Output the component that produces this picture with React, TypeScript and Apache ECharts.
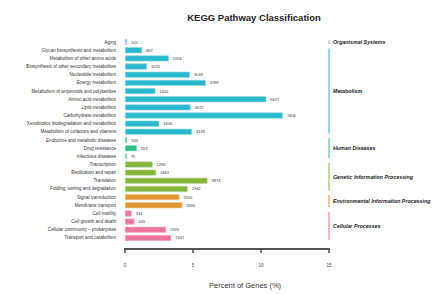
import React, { useEffect, useRef } from "react";
import * as echarts from "echarts";

const categories = [
  "Aging",
  "Glycan biosynthesis and metabolism",
  "Metabolism of other amino acids",
  "Biosynthesis of other secondary metabolites",
  "Nucleotide metabolism",
  "Energy metabolism",
  "Metabolism of terpenoids and polyketides",
  "Amino acid metabolism",
  "Lipid metabolism",
  "Carbohydrate metabolism",
  "Xenobiotics biodegradation and metabolism",
  "Metabolism of cofactors and vitamins",
  "Endocrine and metabolic diseases",
  "Drug resistance",
  "Infectious diseases",
  "Transcription",
  "Replication and repair",
  "Translation",
  "Folding, sorting and degradation",
  "Signal transduction",
  "Membrane transport",
  "Cell motility",
  "Cell growth and death",
  "Cellular community \u2013 prokaryotes",
  "Transport and catabolism",
];

const geneCounts = [
  101, 807, 2056, 1026, 3049, 3789, 1420, 6627, 3072, 7406, 1606, 3148,
  103, 553, 79, 1296, 1463, 3874, 2942, 2550, 2695, 314, 445, 1929, 2167,
];

const percentOfGenes = [
  0.16, 1.26, 3.22, 1.61, 4.78, 5.94, 2.23, 10.39, 4.82, 11.61, 2.52, 4.93,
  0.16, 0.87, 0.12, 2.03, 2.29, 6.07, 4.61, 4.0, 4.22, 0.49, 0.7, 3.02, 3.4,
];

const groupNames = [
  "Organismal Systems",
  "Metabolism",
  "Human Diseases",
  "Genetic Information Processing",
  "Environmental Information Processing",
  "Cellular Processes",
];
const groupSizes = [1, 11, 3, 4, 2, 4];
const groupColors = ["#8ea6e8", "#29b9cd", "#2dbf86", "#86b53b", "#e0962f", "#f0739c"];
const groupLightColors = ["#c3cff3", "#8fd8e3", "#93dcbf", "#c0d99c", "#efc593", "#f5b3c8"];

const xTicks = [0, 5, 10, 15];

const FONT = "Liberation Sans, Arial, Helvetica, sans-serif";

export default function App() {
  const ref = useRef<HTMLDivElement>(null);
  useEffect(() => {
    if (!ref.current) return;
    const chart = echarts.init(ref.current, null, { renderer: "svg" });

    const catGroup: number[] = [];
    const groupRanges: number[][] = [];
    let idx = 0;
    groupSizes.forEach((n, g) => {
      groupRanges.push([15, idx, idx + n - 1, g]);
      for (let k = 0; k < n; k++) catGroup.push(g);
      idx += n;
    });

    const barData = percentOfGenes.map((v, i) => ({
      value: v,
      label: { formatter: String(geneCounts[i]) },
      itemStyle: {
        color: groupColors[catGroup[i]],
        borderColor: groupLightColors[catGroup[i]],
        borderWidth: 0.6,
      },
    }));

    chart.setOption({
      animation: false,
      textStyle: { fontFamily: FONT },
      title: {
        text: "KEGG Pathway Classification",
        left: 249,
        top: 7,
        textAlign: "center",
        textStyle: { fontSize: 9.5, fontWeight: "bold", color: "#222", fontFamily: FONT },
      },
      graphic: [
        {
          type: "text",
          left: 209,
          top: 281,
          style: {
            text: "Percent of Genes (%)",
            fontSize: 7.5,
            fill: "#333",
            fontFamily: FONT,
          },
        },
      ],
      grid: { left: 125, right: 117, top: 38, bottom: 52, containLabel: false },
      xAxis: {
        type: "value",
        min: 0,
        max: 15,
        interval: 5,
        axisLine: { show: false },
        axisTick: { show: false },
        axisLabel: {
          fontSize: 4.5,
          color: "#444",
          margin: 21,
          formatter: (v: number) => (xTicks.includes(v) ? String(v) : ""),
        },
        splitLine: { show: false },
      },
      yAxis: {
        type: "category",
        data: categories,
        inverse: true,
        axisLine: { show: false },
        axisTick: { show: false },
        axisLabel: { fontSize: 4.6, color: "#333", margin: 9, fontFamily: FONT },
      },
      series: [
        {
          type: "bar",
          data: barData,
          barCategoryGap: "26%",
          label: {
            show: true,
            position: "right",
            distance: 4,
            fontSize: 4,
            color: "#333",
            fontFamily: FONT,
          },
        },
        {
          type: "custom",
          clip: false,
          encode: { x: 0, y: 1 },
          data: groupRanges,
          renderItem: (params: any, api: any) => {
            const s = api.value(1);
            const e = api.value(2);
            const g = api.value(3);
            const top = api.coord([15, s]);
            const bot = api.coord([15, e]);
            const band = api.size([0, 1])[1];
            const y0 = top[1] - band / 2 + 2.3;
            const y1 = bot[1] + band / 2 - 2.3;
            const children: any[] = [
              {
                type: "rect",
                shape: { x: top[0] - 1, y: y0, width: 2, height: y1 - y0 },
                style: { fill: groupLightColors[g] },
              },
              {
                type: "text",
                x: top[0] + 4,
                y: (y0 + y1) / 2,
                style: {
                  text: groupNames[g],
                  fill: "#222",
                  fontSize: 5.3,
                  fontStyle: "italic",
                  fontWeight: "bold",
                  fontFamily: FONT,
                  verticalAlign: "middle",
                  align: "left",
                },
              },
            ];
            // the last group also draws the offset x-axis line and its ticks,
            // positioned through the library's x scale
            if (params.dataIndex === groupRanges.length - 1) {
              const yLine = bot[1] + band / 2 + 7;
              const xs = xTicks.map((t) => api.coord([t, e])[0]);
              children.push({
                type: "rect",
                shape: { x: xs[0] - 1, y: yLine - 1, width: xs[xs.length - 1] - xs[0] + 2, height: 2 },
                style: { fill: "#555" },
              });
              xs.forEach((x) => {
                children.push({
                  type: "rect",
                  shape: { x: x - 0.8, y: yLine, width: 1.6, height: 4 },
                  style: { fill: "#555" },
                });
              });
            }
            return { type: "group", children };
          },
        },
      ],
    });

    return () => chart.dispose();
  }, []);
  return (
    <div
      ref={ref}
      style={{ position: "absolute", left: 0, top: 0, width: 446, height: 294 }}
    />
  );
}
